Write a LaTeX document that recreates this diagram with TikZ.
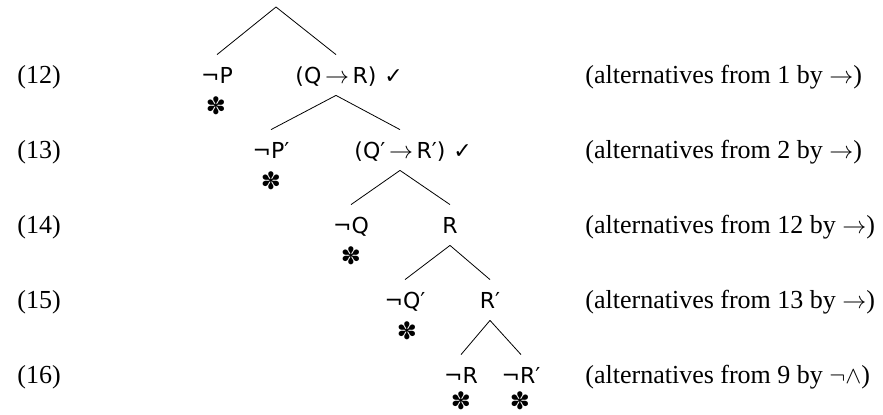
\documentclass[tikz,border=0pt]{standalone}
\usepackage{fontspec}
\setmainfont{Liberation Serif}
\newfontfamily\treefont{DejaVu Sans}
\newcommand{\prm}{′}
\newcommand{\chk}{✓}
\newcommand{\clos}{✽}
\newcommand{\imp}{\,{\fontsize{13}{15}\selectfont$\rightarrow$}\,}

\begin{document}
\begin{tikzpicture}[x=0.5pt, y=-0.5pt,
    leaf/.style={font=\treefont\fontsize{11}{12}\selectfont, anchor=base, inner xsep=1pt, inner ysep=0pt, text height=14pt, text depth=6pt},
    tick/.style={font=\treefont\fontsize{11}{12}\selectfont, anchor=base west, inner xsep=2.5pt, inner ysep=0pt},
    star/.style={font=\treefont\fontsize{12}{12}\selectfont, inner sep=0pt},
    num/.style={font=\fontsize{13}{15}\selectfont, anchor=base west, inner sep=0pt},
    note/.style={num}]
    \useasboundingbox (0,0) rectangle (883,414);

    % line numbers
    \node[num] (n12) at (17,83) {(12)};
    \node[num] (n13) at (17,158) {(13)};
    \node[num] (n14) at (17,233) {(14)};
    \node[num] (n15) at (17,308) {(15)};
    \node[num] (n16) at (17,383) {(16)};

    % tree
    \coordinate (root) at (276,7);
    \node[leaf] (np)  at (217,83) {¬P};
    \node[leaf] (qr)  at (336,83) {(Q\imp R)};
    \node[tick] (c12) at (qr.base east) {\chk};
    \node[star] (x12) at (216,106) {\clos};

    \node[leaf] (np2) at (271,158) {¬P\prm};
    \node[leaf] (qr2) at (400,158) {(Q\prm\imp R\prm)};
    \node[tick] (c13) at (qr2.base east) {\chk};
    \node[star] (x13) at (271,181) {\clos};

    \node[leaf] (nq)  at (351,233) {¬Q};
    \node[leaf] (r)   at (450,233) {R};
    \node[star] (x14) at (351,256) {\clos};

    \node[leaf] (nq2) at (405,308) {¬Q\prm};
    \node[leaf] (r2)  at (490,308) {R\prm};
    \node[star] (x15) at (407,331) {\clos};

    \node[leaf] (nr)  at (461,383) {¬R};
    \node[leaf] (nr2) at (521,383) {¬R\prm};
    \node[star] (x16) at (461,401) {\clos};
    \node[star] (x17) at (520,401) {\clos};

    \draw (root) -- (np.north);
    \draw (root) -- (qr.north);
    \draw (qr.south) -- (np2.north);
    \draw (qr.south) -- (qr2.north);
    \draw (qr2.south) -- (nq.north);
    \draw (qr2.south) -- (r.north);
    \draw (r.south) -- (nq2.north);
    \draw (r.south) -- (r2.north);
    \draw (r2.south) -- (nr.north);
    \draw (r2.south) -- (nr2.north);

    % justifications
    \node[note] (j12) at (585,83) {(alternatives from 1 by $\rightarrow$)};
    \node[note] (j13) at (585,158) {(alternatives from 2 by $\rightarrow$)};
    \node[note] (j14) at (585,233) {(alternatives from 12 by $\rightarrow$)};
    \node[note] (j15) at (585,308) {(alternatives from 13 by $\rightarrow$)};
    \node[note] (j16) at (585,383) {(alternatives from 9 by $\neg\wedge$)};
\end{tikzpicture}
\end{document}
